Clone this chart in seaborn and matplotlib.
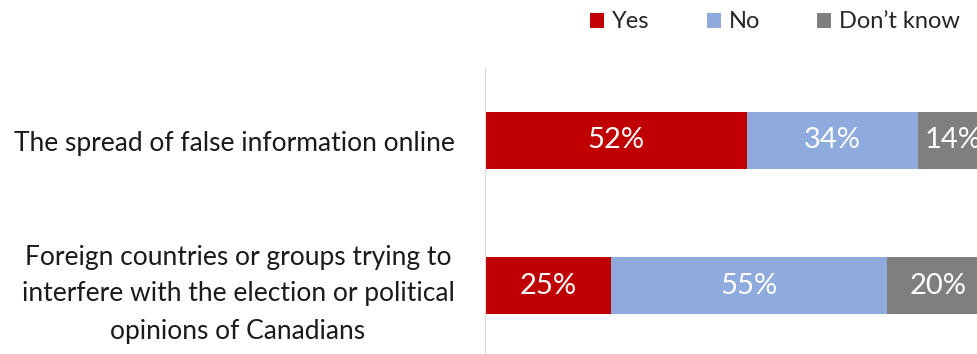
import matplotlib
matplotlib.use("Agg")
import matplotlib.pyplot as plt
from matplotlib.patches import Patch
import pandas as pd
import seaborn as sns

categories = [
    "The spread of false information online",
    "Foreign countries or groups trying to\ninterfere with the election or political\nopinions of Canadians",
]
series = ["Yes", "No", "Don\u2019t know"]
yes = [52, 25]
no = [34, 55]
dont_know = [14, 20]
colors = ["#C00000", "#8FAADC", "#7F7F7F"]

sns.set_style("white")
plt.rcParams["font.family"] = ["Lato", "DejaVu Sans"]

df = pd.DataFrame({"category": categories, "Yes": yes, "No": no, "Don\u2019t know": dont_know})
df["c1"] = df["Yes"]
df["c2"] = df["Yes"] + df["No"]
df["c3"] = df["c2"] + df["Don\u2019t know"]

fig = plt.figure(figsize=(9.78, 3.54), dpi=100)
ax = fig.add_axes([485 / 978, -4 / 354, 503 / 978, 290 / 354])

# stacked bars: draw cumulative totals, largest first
for col, color in zip(["c3", "c2", "c1"], colors[::-1]):
    sns.barplot(data=df, x=col, y="category", color=color, width=0.39,
                orient="h", ax=ax, saturation=1, linewidth=0)

ax.set_xlim(0, 100)
ax.set_ylim(1.5, -0.5)
ax.set_xlabel("")
ax.set_ylabel("")
ax.set_xticks([])

# data labels
for i in range(len(categories)):
    starts = [0, df["c1"][i], df["c2"][i]]
    vals = [yes[i], no[i], dont_know[i]]
    for s, v in zip(starts, vals):
        ax.text(s + v / 2, i, f"{v}%", ha="center", va="center",
                color="white", fontsize=21, clip_on=False)

ax.set_yticks(range(len(categories)))
ax.set_yticklabels(categories, fontsize=19, color="#1a1a1a", linespacing=1.6)
for lbl in ax.get_yticklabels():
    lbl.set_multialignment("center")
ax.tick_params(axis="y", which="major", length=0, pad=22)
ax.set_yticks([-0.5, 0.5], minor=True)
ax.tick_params(axis="y", which="minor", length=5, color="#D9D9D9", width=1)

for s in ["top", "right", "bottom"]:
    ax.spines[s].set_visible(False)
ax.spines["left"].set_color("#D9D9D9")

handles = [Patch(facecolor=c, edgecolor="none") for c in colors]
fig.legend(handles, series, loc="center left", bbox_to_anchor=(590 / 978, 1 - 22 / 354),
           ncol=3, frameon=False, fontsize=17, handlelength=0.6, handleheight=0.6,
           handletextpad=0.35, columnspacing=2.4, borderaxespad=0, borderpad=0)

fig.savefig("out.png", dpi=100)
